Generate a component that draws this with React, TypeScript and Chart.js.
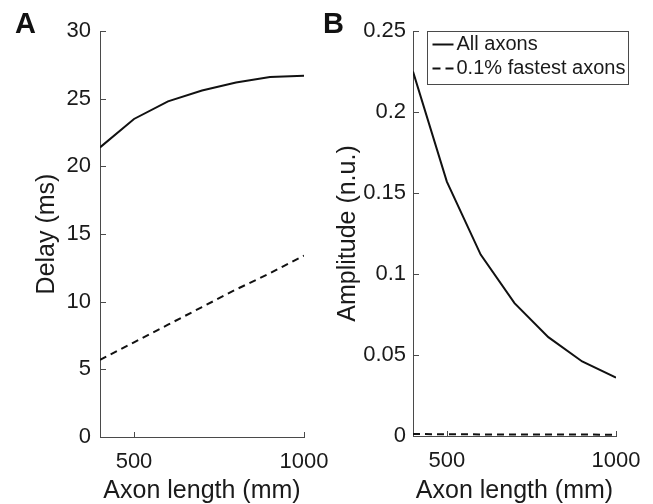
import React, { useEffect, useRef } from 'react';
import { Chart, registerables } from 'chart.js';

Chart.register(...registerables);

// ---- data ----
const axonLength = [400, 500, 600, 700, 800, 900, 1000];
const delayAll = [21.4, 23.5, 24.8, 25.6, 26.2, 26.6, 26.7];
const delayFastest = [5.7, 7.0, 8.3, 9.6, 10.9, 12.1, 13.4];
const ampAll = [0.225, 0.157, 0.112, 0.082, 0.061, 0.046, 0.036];
const ampFastest = [0.0012, 0.0011, 0.001, 0.001, 0.0009, 0.0009, 0.0008];
const xTicks = [500, 1000];
const yTicksA = [0, 5, 10, 15, 20, 25, 30];
const yTicksB = [0, 0.05, 0.1, 0.15, 0.2, 0.25];
const seriesLabels = ['All axons', '0.1% fastest axons'];

const FONT = "'Liberation Sans', Arial, Helvetica, sans-serif";
const AXIS = '#4a4a4a';
const TEXT = '#1a1a1a';
const LINE = '#111111';
const DASH = [7, 5];

const innerTicks = {
  id: 'innerTicks',
  afterDatasetsDraw(chart: any) {
    const ctx = chart.ctx;
    const { left, bottom } = chart.chartArea;
    const xs = chart.scales.x;
    const ys = chart.scales.y;
    ctx.save();
    ctx.strokeStyle = AXIS;
    ctx.lineWidth = 1;
    ctx.beginPath();
    xs.ticks.forEach((t: any) => {
      const px = Math.round(xs.getPixelForValue(t.value)) + 0.5;
      ctx.moveTo(px, Math.round(bottom) + 0.5);
      ctx.lineTo(px, Math.round(bottom) - 5);
    });
    ys.ticks.forEach((t: any) => {
      const py = Math.round(ys.getPixelForValue(t.value)) + 0.5;
      ctx.moveTo(Math.round(left) + 0.5, py);
      ctx.lineTo(Math.round(left) + 6, py);
    });
    ctx.stroke();
    ctx.restore();
  },
};

const boxLegend = {
  id: 'boxLegend',
  afterDraw(chart: any) {
    const opts = chart.options.plugins.boxLegend;
    if (!opts || !opts.show) return;
    const ctx = chart.ctx;
    const ca = chart.chartArea;
    const x0 = Math.round(ca.left + 14) + 0.5;
    const y0 = Math.round(ca.top) + 0.5;
    const w = 201;
    const h = 53;
    ctx.save();
    ctx.fillStyle = '#ffffff';
    ctx.fillRect(x0, y0, w, h);
    ctx.strokeStyle = AXIS;
    ctx.lineWidth = 1;
    ctx.setLineDash([]);
    ctx.strokeRect(x0, y0, w, h);
    chart.data.datasets.forEach((ds: any, i: number) => {
      const cy = y0 + 13 + i * 24;
      ctx.beginPath();
      ctx.strokeStyle = ds.borderColor;
      ctx.lineWidth = ds.borderWidth;
      ctx.setLineDash(ds.borderDash && ds.borderDash.length ? [8, 5] : []);
      ctx.moveTo(x0 + 5, cy);
      ctx.lineTo(x0 + 26, cy);
      ctx.stroke();
      ctx.setLineDash([]);
      ctx.fillStyle = TEXT;
      ctx.font = `20px ${FONT}`;
      ctx.textBaseline = 'middle';
      ctx.textAlign = 'left';
      ctx.fillText(ds.label, x0 + 29, cy);
    });
    ctx.restore();
  },
};

function makeConfig(
  all: number[],
  fastest: number[],
  yMax: number,
  yTicks: number[],
  yTitle: string,
  geom: { yWidth: number; xHeight: number; top: number; right: number; yTitlePad: number; yTickPad: number },
  showLegend: boolean
): any {
  return {
    type: 'line',
    data: {
      datasets: [
        {
          label: seriesLabels[0],
          data: axonLength.map((x, i) => ({ x, y: all[i] })),
          borderColor: LINE,
          borderWidth: 2,
          pointRadius: 0,
          fill: false,
          tension: 0,
        },
        {
          label: seriesLabels[1],
          data: axonLength.map((x, i) => ({ x, y: fastest[i] })),
          borderColor: LINE,
          borderWidth: 2,
          borderDash: DASH,
          pointRadius: 0,
          fill: false,
          tension: 0,
        },
      ],
    },
    options: {
      responsive: false,
      animation: false,
      devicePixelRatio: 1,
      layout: { padding: { top: geom.top, right: geom.right, left: 0, bottom: 0 } },
      plugins: {
        legend: { display: false },
        tooltip: { enabled: false },
        boxLegend: { show: showLegend },
      },
      scales: {
        x: {
          type: 'linear',
          min: 400,
          max: 1000,
          afterBuildTicks: (s: any) => {
            s.ticks = xTicks.map((v) => ({ value: v }));
          },
          afterFit: (s: any) => {
            s.height = geom.xHeight;
            s.paddingLeft = 0;
            s.paddingRight = 0;
          },
          grid: { display: false, drawTicks: false },
          border: { display: true, color: AXIS, width: 1 },
          ticks: {
            font: { family: FONT, size: 22 },
            color: TEXT,
            padding: 12,
            maxRotation: 0,
            autoSkip: false,
            callback: (v: any) => String(v),
          },
          title: {
            display: true,
            text: 'Axon length (mm)',
            font: { family: FONT, size: 25 },
            color: TEXT,
            padding: { top: 0, bottom: -2 },
          },
        },
        y: {
          type: 'linear',
          min: 0,
          max: yMax,
          afterBuildTicks: (s: any) => {
            s.ticks = yTicks.map((v) => ({ value: v }));
          },
          afterFit: (s: any) => {
            s.width = geom.yWidth;
            s.paddingTop = 0;
            s.paddingBottom = 0;
          },
          grid: { display: false, drawTicks: false },
          border: { display: true, color: AXIS, width: 1 },
          ticks: {
            font: { family: FONT, size: 22 },
            color: TEXT,
            padding: geom.yTickPad,
            autoSkip: false,
            callback: (v: any) => String(Math.round(v * 1000) / 1000),
          },
          title: {
            display: true,
            text: yTitle,
            font: { family: FONT, size: 25 },
            color: TEXT,
            padding: { top: geom.yTitlePad, bottom: 0 },
          },
        },
      },
    },
    plugins: [innerTicks, boxLegend],
  };
}

function Panel(props: { config: any; left: number; width: number }) {
  const ref = useRef<HTMLCanvasElement | null>(null);
  useEffect(() => {
    if (!ref.current) return;
    const chart = new Chart(ref.current, props.config);
    return () => chart.destroy();
  }, []);
  return (
    <canvas
      ref={ref}
      width={props.width}
      height={504}
      style={{ position: 'absolute', left: props.left, top: 0, width: props.width, height: 504 }}
    />
  );
}

export default function App() {
  const configA = makeConfig(delayAll, delayFastest, 30, yTicksA, 'Delay (ms)', {
    yWidth: 100,
    xHeight: 67,
    top: 31,
    right: 40,
    yTitlePad: 32,
    yTickPad: 9,
  }, false);
  const configB = makeConfig(ampAll, ampFastest, 0.25, yTicksB, 'Amplitude (n.u.)', {
    yWidth: 87,
    xHeight: 68,
    top: 31,
    right: 37,
    yTitlePad: 7,
    yTickPad: 7,
  }, true);
  const letter: React.CSSProperties = {
    position: 'absolute',
    top: 9,
    fontFamily: FONT,
    fontWeight: 'bold',
    fontSize: 29,
    lineHeight: 1,
    color: '#111',
  };
  return (
    <div style={{ position: 'absolute', left: 0, top: 0, width: 653, height: 504, background: '#fff', overflow: 'hidden' }}>
      <Panel config={configA} left={0} width={344} />
      <Panel config={configB} left={326} width={327} />
      <div style={{ ...letter, left: 15 }}>A</div>
      <div style={{ ...letter, left: 323 }}>B</div>
    </div>
  );
}
